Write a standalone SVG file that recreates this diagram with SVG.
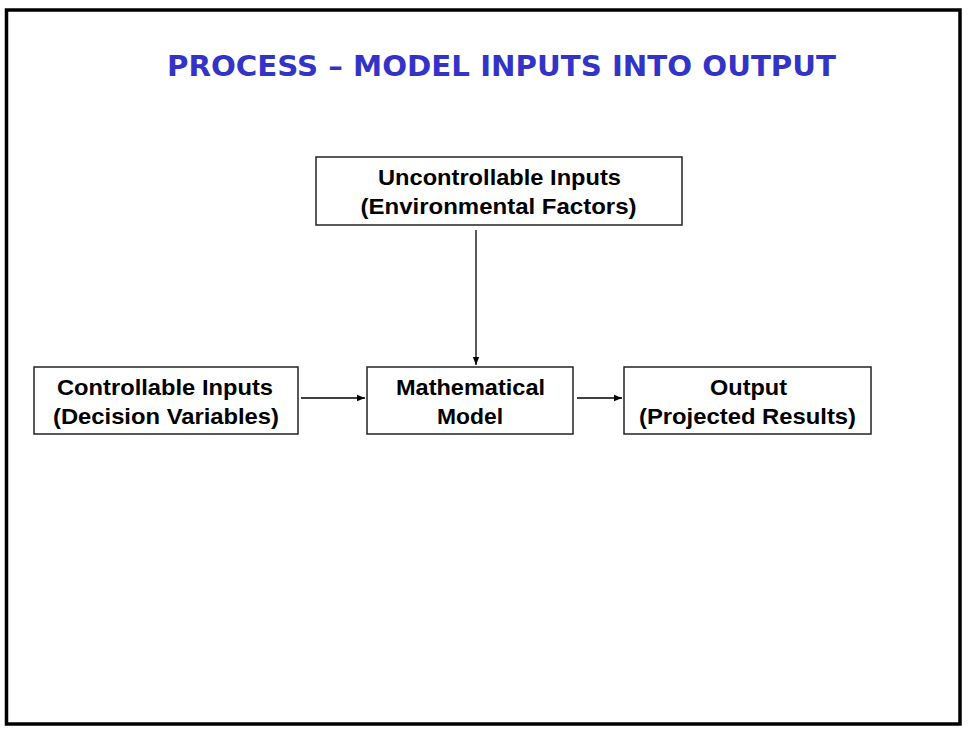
<svg xmlns="http://www.w3.org/2000/svg" width="970" height="730" viewBox="0 0 970 730">
<defs>
<marker id="ah" viewBox="0 0 10 10" refX="10" refY="5" markerWidth="8" markerHeight="8" markerUnits="userSpaceOnUse" orient="auto">
<path d="M0,1 L10,5 L0,9 Z" fill="#000"/>
</marker>
<style>
.box{fill:#fff;stroke:#222;stroke-width:1.5}
.lbl{font-family:"Liberation Sans",Arial,sans-serif;font-weight:bold;font-size:22px;fill:#000;text-anchor:middle}
.title{font-family:"DejaVu Sans",Tahoma,sans-serif;font-weight:bold;font-size:29px;fill:#3333C8}
.conn{stroke:#000;stroke-width:1.3;fill:none}
</style>
</defs>
<rect x="0" y="0" width="970" height="730" fill="#fff"/>
<rect x="6.5" y="10" width="953.5" height="714" fill="none" stroke="#000" stroke-width="3.5"/>
<text class="title" x="167" y="76" textLength="669" lengthAdjust="spacingAndGlyphs">PROCESS – MODEL INPUTS INTO OUTPUT</text>
<g id="uncontrollable">
<rect class="box" x="316" y="157" width="366" height="68"/>
<text class="lbl" x="499.5" y="185" textLength="243" lengthAdjust="spacingAndGlyphs">Uncontrollable Inputs</text>
<text class="lbl" x="498.5" y="214" textLength="276" lengthAdjust="spacingAndGlyphs">(Environmental Factors)</text>
</g>
<g id="controllable">
<rect class="box" x="34" y="367" width="264" height="67"/>
<text class="lbl" x="165" y="395" textLength="216" lengthAdjust="spacingAndGlyphs">Controllable Inputs</text>
<text class="lbl" x="166" y="424" textLength="226" lengthAdjust="spacingAndGlyphs">(Decision Variables)</text>
</g>
<g id="model">
<rect class="box" x="367" y="367" width="206" height="67"/>
<text class="lbl" x="470.5" y="395" textLength="149" lengthAdjust="spacingAndGlyphs">Mathematical</text>
<text class="lbl" x="470" y="424" textLength="66" lengthAdjust="spacingAndGlyphs">Model</text>
</g>
<g id="output">
<rect class="box" x="624" y="367" width="247" height="67"/>
<text class="lbl" x="748.5" y="395" textLength="77" lengthAdjust="spacingAndGlyphs">Output</text>
<text class="lbl" x="747.5" y="424" textLength="217" lengthAdjust="spacingAndGlyphs">(Projected Results)</text>
</g>
<g id="connectors">
<line class="conn" x1="476" y1="230" x2="476" y2="365" marker-end="url(#ah)"/>
<line class="conn" x1="301" y1="398" x2="365" y2="398" marker-end="url(#ah)"/>
<line class="conn" x1="577" y1="398" x2="622" y2="398" marker-end="url(#ah)"/>
</g>
</svg>
